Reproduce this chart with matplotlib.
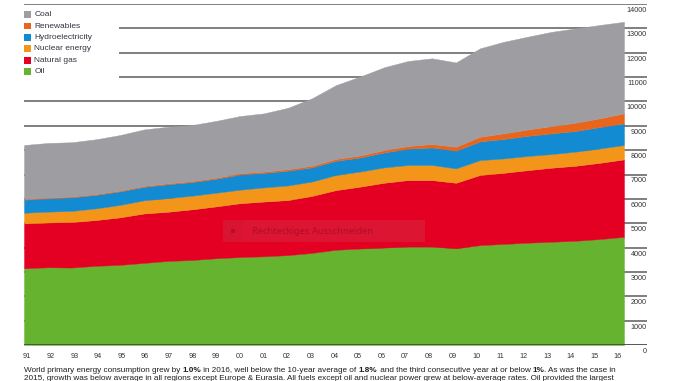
import matplotlib
matplotlib.use('Agg')
import matplotlib.pyplot as plt
import matplotlib.transforms as mtrans
from matplotlib.patches import Rectangle
from matplotlib.text import Annotation
import numpy as np

plt.rcParams['font.family'] = ['Liberation Sans', 'DejaVu Sans']

# ---------------- data (Mtoe) ----------------
years = ['91', '92', '93', '94', '95', '96', '97', '98', '99', '00', '01', '02', '03',
         '04', '05', '06', '07', '08', '09', '10', '11', '12', '13', '14', '15', '16']
oil = [3150, 3190, 3180, 3250, 3290, 3370, 3450, 3490, 3560, 3610, 3640, 3690, 3780,
       3910, 3960, 4000, 4040, 4040, 3970, 4100, 4150, 4200, 4240, 4280, 4350, 4440]
natural_gas = [1840, 1840, 1870, 1880, 1950, 2030, 2020, 2080, 2130, 2210, 2250, 2260, 2340,
               2450, 2540, 2660, 2730, 2730, 2690, 2880, 2920, 2980, 3040, 3080, 3130, 3180]
nuclear = [440, 445, 455, 480, 510, 540, 560, 560, 560, 555, 580, 600, 590,
           620, 620, 630, 620, 620, 590, 610, 590, 580, 560, 580, 590, 590]
hydro = [535, 543, 561, 555, 557, 554, 571, 558, 574, 624, 597, 610, 584,
         585, 576, 615, 670, 720, 730, 770, 800, 830, 850, 850, 880, 890]
renewables = [25, 27, 29, 31, 33, 36, 39, 42, 46, 51, 53, 60, 66,
              75, 84, 95, 110, 140, 160, 190, 230, 260, 300, 340, 360, 410]
coal = [2220, 2250, 2230, 2250, 2280, 2320, 2320, 2300, 2330, 2350, 2390, 2520, 2770,
        3030, 3240, 3400, 3490, 3520, 3460, 3630, 3760, 3810, 3870, 3870, 3830, 3760]
yticks = list(range(0, 14001, 1000))

legend_names = ['Coal', 'Renewables', 'Hydroelectricity', 'Nuclear energy', 'Natural gas', 'Oil']
colors = {'Oil': '#65b32e', 'Natural gas': '#e30022', 'Nuclear energy': '#f39519',
          'Hydroelectricity': '#138bd3', 'Renewables': '#ea651c', 'Coal': '#9e9da2'}

caption1 = [("World primary energy consumption grew by ", 'normal'), ("1.0%", 'bold'),
            (" in 2016, well below the 10-year average of ", 'normal'), ("1.8%", 'bold'),
            (" and the third consecutive year at or below ", 'normal'), ("1%", 'bold'),
            (". As was the case in", 'normal')]
caption2 = ("2015, growth was below average in all regions except Europe & Eurasia. All fuels except "
            "oil and nuclear power grew at below-average rates. Oil provided the largest")

# ---------------- figure ----------------
W, H = 678, 381
fig = plt.figure(figsize=(W / 100, H / 100), dpi=100)


def fx(px):
    return px / W


def fy(py):
    return 1 - py / H


ax = fig.add_axes([fx(24), fy(345), (647 - 24) / W, (345 - 4) / H])
x = np.arange(len(years))
xmax = (len(years) - 1) * 623 / 600
ax.set_xlim(0, xmax)
ax.set_ylim(0, 14000)
ax.axis('off')

# gridlines behind areas
for v in yticks[1:]:
    ax.axhline(v, color='#6a6a6a', lw=1.2, zorder=0)

series = [('Oil', oil), ('Natural gas', natural_gas), ('Nuclear energy', nuclear),
          ('Hydroelectricity', hydro), ('Renewables', renewables), ('Coal', coal)]
base = np.zeros(len(years))
for name, vals in series:
    top = base + np.array(vals, dtype=float)
    ax.fill_between(x, base, top, facecolor=colors[name], edgecolor=colors[name],
                    lw=0.3, zorder=2)
    base = top

ax.axhline(0, color='#4a4a4a', lw=1.3, zorder=4)

# y labels (right, just below each line)
off = mtrans.ScaledTranslation(0, -3 / 100, fig.dpi_scale_trans)
for v in yticks:
    ax.text(xmax, v, str(v), ha='right', va='top', fontsize=5.2, color='#333333',
            transform=ax.transData + off, zorder=5)

# x labels
offx = mtrans.ScaledTranslation(0, -8 / 100, fig.dpi_scale_trans)
for i, lab in enumerate(years):
    ax.text(i * 0.985 + 0.125, 0, lab, ha='center', va='top', fontsize=5.2,
            color='#333333', transform=ax.transData + offx)

# legend (white panel hiding gridlines)
fig.patches.append(Rectangle((fx(20), fy(82)), 99 / W, 70 / H, transform=fig.transFigure,
                             facecolor='white', edgecolor='none', zorder=3))
for k, name in enumerate(legend_names):
    cy = 14.6 + 11.4 * k
    fig.patches.append(Rectangle((fx(24), fy(cy + 3.3)), 6.6 / W, 6.6 / H,
                                 transform=fig.transFigure, facecolor=colors[name],
                                 edgecolor='none', zorder=4))
    fig.text(fx(34.5), fy(cy), name, ha='left', va='center', fontsize=6.0,
             color='#333344', zorder=5)

# screenshot-tool overlay
fig.patches.append(Rectangle((fx(223), fy(242)), 202 / W, 22 / H, transform=fig.transFigure,
                             facecolor='#dc1533', edgecolor='none', zorder=6))
fig.patches.append(Rectangle((fx(223), fy(242)), 20 / W, 22 / H, transform=fig.transFigure,
                             facecolor='#d81430', edgecolor='none', zorder=6))
fig.patches.append(Rectangle((fx(231), fy(233)), 4 / W, 4 / H, transform=fig.transFigure,
                             facecolor='#b80e28', edgecolor='none', zorder=7))
fig.text(fx(252), fy(231), 'Rechteckiges Ausschneiden', ha='left', va='center',
         fontsize=6.8, color='#b00e28', family=['Noto Sans', 'DejaVu Sans'], zorder=7)

# caption (line 1 with bold figures, chained pieces)
FS = 5.9
prev = fig.text(fx(24), fy(371.5), caption1[0][0], ha='left', va='baseline',
                fontsize=FS, color='#1e1e1e')
for txt, wt in caption1[1:]:
    prev = fig.add_artist(Annotation(txt, xy=(1, 0), xycoords=prev, ha='left', va='bottom',
                                     fontsize=FS, color='#1e1e1e', weight=wt))
fig.text(fx(24), fy(379.8), caption2, ha='left', va='baseline', fontsize=FS, color='#1e1e1e')

fig.savefig('out.png', dpi=100)
